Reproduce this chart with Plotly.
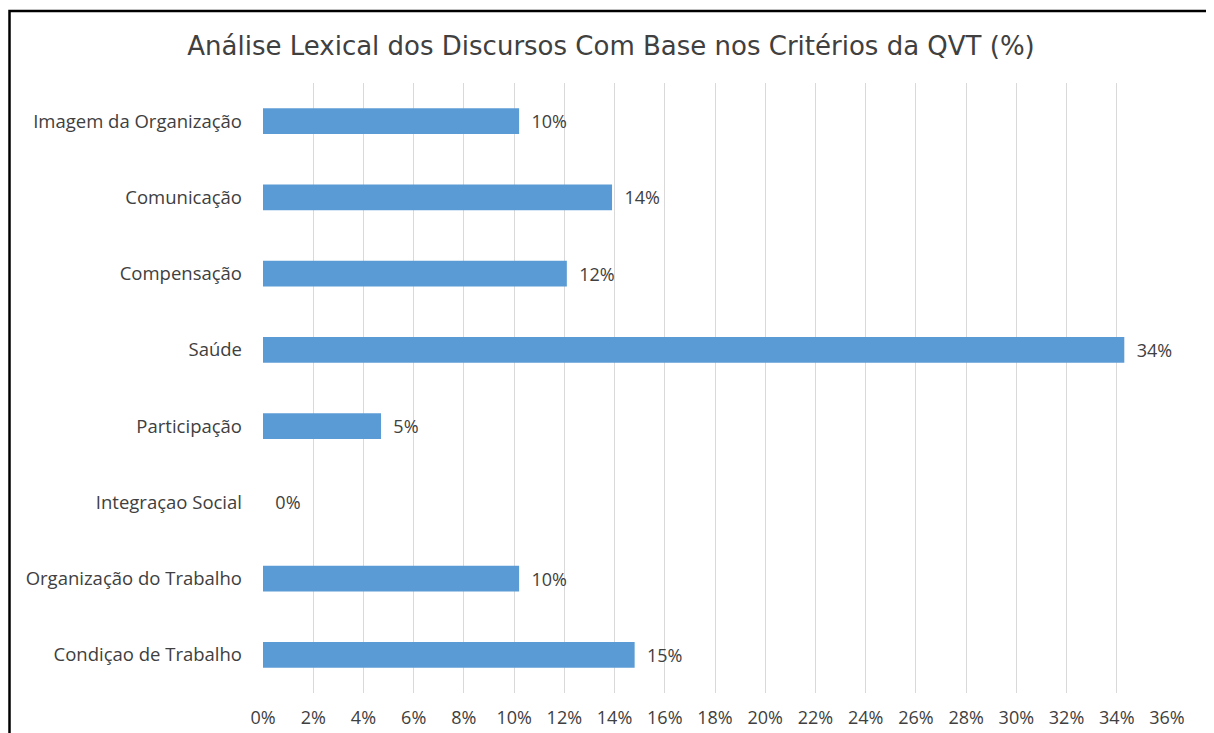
import plotly.graph_objects as go

categories = ["Imagem da Organização", "Comunicação", "Compensação", "Saúde",
              "Participação", "Integraçao Social", "Organização do Trabalho",
              "Condiçao de Trabalho"]
values = [0.102, 0.139, 0.121, 0.343, 0.047, 0.0, 0.102, 0.148]
tick_vals = [i / 100 for i in range(0, 37, 2)]
tick_text = [f"{i}%" for i in range(0, 37, 2)]
title = "Análise Lexical dos Discursos Com Base nos Critérios da QVT (%)"

OFF = 8  # page body margin
W, H = 1214 - OFF, 733 - OFF
L, T = 263 - OFF, 83 - OFF
R = W - (1167 - OFF)
B = H - (693 - OFF)
pw, ph = W - L - R, H - T - B

def px(x):
    return (x - OFF - L) / pw

def py(y):
    return (H - B - (y - OFF)) / ph

font_fam = "Open Sans"
txt_col = "#404040"

fig = go.Figure(go.Bar(
    x=values, y=categories, orientation="h",
    marker=dict(color="#5B9BD5", line=dict(width=0)),
    texttemplate="  %{x:.0%}", textposition="outside", cliponaxis=False,
    textfont=dict(family=font_fam, size=18, color=txt_col),
    width=0.34,
))

fig.update_layout(
    width=W, height=H,
    margin=dict(l=L, r=R, t=T, b=B, autoexpand=False),
    paper_bgcolor="white", plot_bgcolor="white",
    showlegend=False,
    title=dict(text=title, x=(611 - OFF) / W, xref="container", xanchor="center",
               y=1 - (46 - OFF) / H, yref="container", yanchor="middle",
               font=dict(family="DejaVu Sans", size=26, color=txt_col)),
    xaxis=dict(range=[0, 0.36], tickvals=tick_vals, ticktext=tick_text,
               showgrid=True, gridcolor="#D9D9D9", gridwidth=1,
               zeroline=False, showline=False, ticks="",
               ticklabelstandoff=12,
               tickfont=dict(family=font_fam, size=18, color=txt_col)),
    yaxis=dict(categoryorder="array", categoryarray=categories,
               autorange="reversed", showgrid=False, zeroline=False,
               showline=False, ticks="", ticklabelstandoff=20,
               tickfont=dict(family=font_fam, size=18.5, color=txt_col)),
    shapes=[dict(type="rect", xref="paper", yref="paper",
                 x0=px(OFF + 1.5), x1=px(1211), y0=py(745), y1=py(11),
                 line=dict(color="black", width=2.5), fillcolor="rgba(0,0,0,0)")],
)

fig.write_html("out.html")
